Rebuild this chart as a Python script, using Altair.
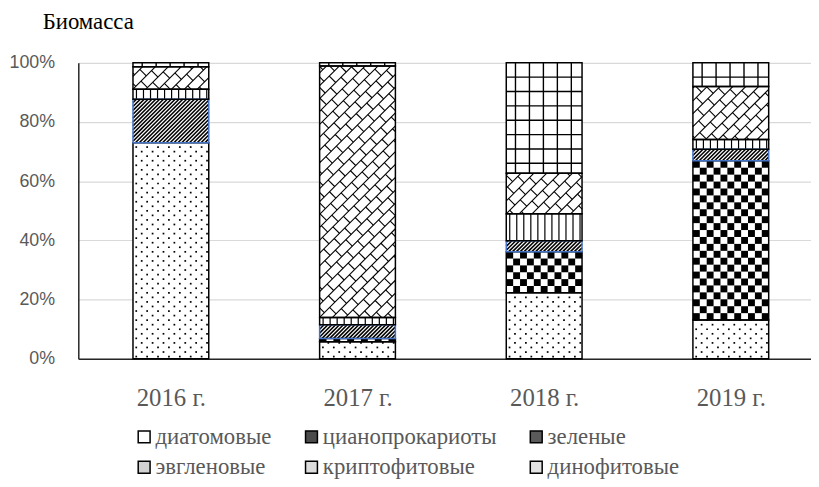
import math
import altair as alt
import pandas as pd

years = ["2016 г.", "2017 г.", "2018 г.", "2019 г."]
groups = ["диатомовые", "цианопрокариоты", "зеленые", "эвгленовые", "криптофитовые", "динофитовые"]
# percent of biomass, bottom to top
diatom = [73.0, 5.8, 22.3, 13.1]
cyano = [0.0, 1.1, 13.9, 53.8]
green = [14.7, 4.6, 3.7, 3.9]
euglen = [3.4, 2.5, 9.1, 3.3]
crypto = [7.6, 84.9, 13.7, 17.9]
dino = [1.3, 1.1, 37.3, 8.0]
series = [diatom, cyano, green, euglen, crypto, dino]

legend_fills = ["#ffffff", "#4a4a4a", "#5a5a5a", "#d2d2d2", "#dddddd", "#e4e4e4"]

# ---- layout constants (scale geometry) ----
W_PLOT, H_PLOT = 740, 299
X_DOM = [-0.496, 3.4297]
PX_X = W_PLOT / (X_DOM[1] - X_DOM[0])   # pixels per category unit
PX_Y = H_PLOT / 100.0                   # pixels per percent
HALF = 0.203                            # half bar width, category units

# ---- stacked segments ----
segs = []
for k, y in enumerate(years):
    base = 0.0
    for gi, g in enumerate(groups):
        v = series[gi][k]
        if v > 0:
            segs.append({"k": k, "year": y, "group": g, "x": k - HALF, "x2": k + HALF,
                         "y": base, "y2": base + v})
        base += v
seg_df = pd.DataFrame(segs)


def clip(u0, v0, u1, v1, W, H):
    t0, t1 = 0.0, 1.0
    du, dv = u1 - u0, v1 - v0
    for p, q in ((-du, u0), (du, W - u0), (-dv, v0), (dv, H - v0)):
        if p == 0:
            if q < 0:
                return None
        else:
            t = q / p
            if p < 0:
                t0 = max(t0, t)
            else:
                t1 = min(t1, t)
    if t0 >= t1:
        return None
    return (u0 + t0 * du, v0 + t0 * dv, u0 + t1 * du, v0 + t1 * dv)


lines, dots, cells = [], [], []
for s in segs:
    W = (s["x2"] - s["x"]) * PX_X
    H = (s["y2"] - s["y"]) * PX_Y

    def to_data(u, v, s=s):
        return s["x"] + u / PX_X, s["y"] + v / PX_Y

    def add_line(u0, v0, u1, v1, sw, W=W, H=H):
        c = clip(u0, v0, u1, v1, W, H)
        if c is None:
            return
        a = to_data(c[0], c[1])
        b = to_data(c[2], c[3])
        lines.append({"x": a[0], "y": a[1], "x2": b[0], "y2": b[1], "sw": sw})

    g = s["group"]
    if g == "диатомовые":
        sx, sy = 11.0, 4.6
        r = 0
        while sy * (r + 0.5) < H:
            v = sy * (r + 0.5)
            u = sx * 0.3 + (r % 2) * sx / 2
            while u < W - 1:
                dots.append(dict(zip(("x", "y"), to_data(u, v))))
                u += sx
            r += 1
    elif g == "цианопрокариоты":
        ncol = 11
        cw = W / ncol
        nrow = max(1, round(H / cw))
        ch = H / nrow
        for r in range(nrow):
            for c in range(ncol):
                if (r + c) % 2 == 0:
                    a = to_data(c * cw, H - r * ch)
                    b = to_data((c + 1) * cw, H - (r + 1) * ch)
                    cells.append({"x": a[0], "y": a[1], "x2": b[0], "y2": b[1]})
    elif g == "зеленые":
        step = 3.9
        c = -W
        while c < H:
            add_line(-10, -10 + c, W + 10, W + 10 + c, 1.6)
            c += step
    elif g == "эвгленовые":
        u = 3.5
        while u < W - 1:
            add_line(u, 0, u, H, 1.2)
            u += 7.1
    elif g == "криптофитовые":
        S = 13.0
        L = 15.0
        i = math.floor(-W / S) - 1
        while i * S < H + S:
            cc = i * S
            add_line(-H - 10, -H - 10 + cc, W + H + 10, W + H + 10 + cc, 1.1)
            d = S / math.sqrt(2)
            t = -2 * (W + H) + (i % 2) * L / 2
            while t < 2 * (W + H):
                pu = -cc / 2 + t / math.sqrt(2)
                pv = cc / 2 + t / math.sqrt(2)
                add_line(pu, pv, pu + d / math.sqrt(2), pv - d / math.sqrt(2), 1.1)
                t += L
            i += 1
    elif g == "динофитовые":
        u = 9.3
        while u < W - 1:
            add_line(u, 0, u, H, 1.4)
            u += 14.1
        v = H - 14.5
        while v > 1:
            add_line(0, v, W, v, 1.4)
            v -= 14.5

lines_df = pd.DataFrame(lines)
dots_df = pd.DataFrame(dots)
cells_df = pd.DataFrame(cells)
legend_df = pd.DataFrame({"group": groups, "x": [0.0] * 6, "y": [0.0] * 6})

SERIF = "Liberation Serif"
SANS = "Liberation Sans"

label_expr = "[" + ",".join("'%s'" % y for y in years) + "][datum.value]"
x_scale = alt.Scale(domain=X_DOM, nice=False, zero=False)
y_scale = alt.Scale(domain=[0, 100], nice=False)
x_axis = alt.Axis(title=None, values=[0, 1, 2, 3], labelExpr=label_expr, grid=False,
                  labelFont=SERIF, labelFontSize=25, labelColor="#595959", labelPadding=27,
                  ticks=False, domainColor="#262626", domainWidth=1.5, labelFlush=False)
y_axis = alt.Axis(title=None, values=[0, 20, 40, 60, 80, 100], labelExpr="datum.value + '%'",
                  labelFont=SANS, labelFontSize=18, labelColor="#595959", labelPadding=24,
                  ticks=False, gridColor="#d9d9d9", gridWidth=1.2,
                  domainColor="#262626", domainWidth=1.5)


def X(f="x"):
    return alt.X(f + ":Q", scale=x_scale, axis=x_axis)


def Y(f="y"):
    return alt.Y(f + ":Q", scale=y_scale, axis=y_axis)


base_bars = alt.Chart(seg_df).mark_rect(fill="white", strokeWidth=0).encode(
    x=X(), x2="x2:Q", y=Y(), y2="y2:Q")

pat_cells = alt.Chart(cells_df).mark_rect(color="black", strokeWidth=0).encode(
    x=X(), x2="x2:Q", y=Y(), y2="y2:Q")

pat_lines = alt.Chart(lines_df).mark_rule(color="black").encode(
    x=X(), x2="x2:Q", y=Y(), y2="y2:Q",
    strokeWidth=alt.StrokeWidth("sw:Q", scale=None, legend=None))

pat_dots = alt.Chart(dots_df).mark_square(size=3, color="black", opacity=1).encode(
    x=X(), y=Y())

outlines = alt.Chart(seg_df).mark_rect(fillOpacity=0, strokeWidth=1.5).encode(
    x=X(), x2="x2:Q", y=Y(), y2="y2:Q",
    stroke=alt.condition(alt.datum.group == "зеленые", alt.value("#4472C4"), alt.value("black")))

legend_layer = alt.Chart(legend_df).mark_square(opacity=0, size=1).encode(
    x=X(), y=Y(),
    color=alt.Color("group:N", sort=groups,
                    scale=alt.Scale(domain=groups, range=legend_fills),
                    legend=alt.Legend(title=None, orient="none", legendX=55, legendY=366,
                                      columns=3, direction="horizontal",
                                      symbolType="square", symbolSize=144,
                                      symbolStrokeColor="black", symbolStrokeWidth=1.5,
                                      symbolOpacity=1,
                                      labelFont=SERIF, labelFontSize=23, labelColor="#595959",
                                      labelOffset=0, rowPadding=7, columnPadding=28,
                                      labelLimit=300)))

chart = alt.layer(base_bars, pat_cells, pat_lines, pat_dots, outlines, legend_layer).properties(
    width=W_PLOT, height=H_PLOT,
    background="white",
    autosize=alt.AutoSizeParams(type="none"),
    padding={"left": 71, "top": 53, "right": 0, "bottom": 119},
    title=alt.TitleParams("Биомасса", anchor="start", frame="group",
                          font="Liberation Serif, Times New Roman, serif", fontSize=23,
                          fontWeight="normal", color="black", dx=-36, offset=20),
).configure_view(stroke=None).configure_title(font="Liberation Serif, Times New Roman, serif",
                                              fontSize=23, fontWeight="normal", color="black")

chart.save("out.html", embed_options={"renderer": "svg", "actions": False})
